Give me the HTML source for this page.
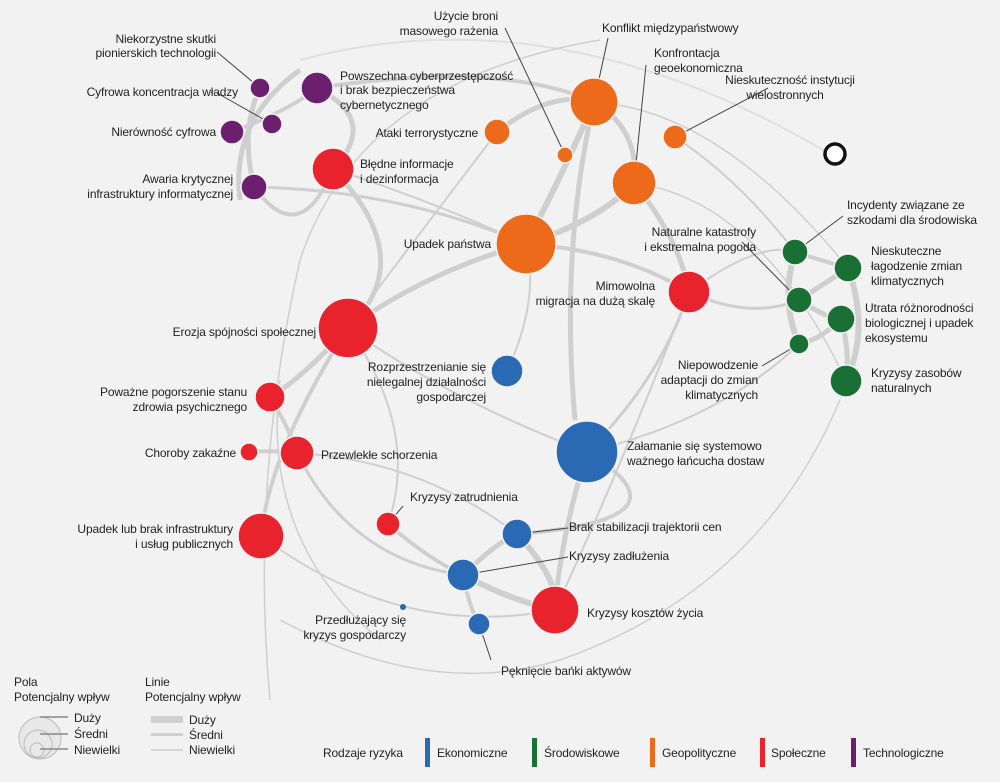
<!DOCTYPE html>
<html><head><meta charset="utf-8"><style>
html,body{margin:0;padding:0;background:#f2f2f2}
svg{display:block}
text{font-family:"Liberation Sans Narrow","Liberation Sans",sans-serif;font-size:12px;letter-spacing:-0.15px;fill:#222}
.e{fill:none;stroke:#cfcfcf}
.l{stroke:#444;stroke-width:1;fill:none}
circle.n{stroke:#f2f2f2;stroke-width:1.5}
</style></head><body>
<svg width="1000" height="782" viewBox="0 0 1000 782">
<rect width="1000" height="782" fill="#f2f2f2"/>
<g class="e">
<path d="M300 60 Q560 -10 840 160" stroke-width="2" stroke="#e0e0e0"/>
<path d="M240 200 Q230 120 300 70" stroke-width="5"/>
<path d="M254 187 Q300 250 333 169" stroke-width="4"/>
<path d="M317 88 Q380 120 333 169" stroke-width="5"/>
<path d="M260 88 Q240 130 254 187" stroke-width="5"/>
<path d="M232 132 Q290 110 317 88" stroke-width="4"/>
<path d="M333 169 Q420 260 348 328" stroke-width="5"/>
<path d="M317 88 Q500 60 594 102" stroke-width="4"/>
<path d="M497 132 Q550 90 594 102" stroke-width="5"/>
<path d="M594 102 Q560 180 526 244" stroke-width="6"/>
<path d="M594 102 Q640 130 634 183" stroke-width="5"/>
<path d="M634 183 Q600 220 526 244" stroke-width="6"/>
<path d="M634 183 Q680 240 689 292" stroke-width="5"/>
<path d="M594 102 Q560 250 575 420" stroke-width="5"/>
<path d="M526 244 Q430 270 348 328" stroke-width="5"/>
<path d="M526 244 Q620 250 689 292" stroke-width="4"/>
<path d="M348 328 Q300 380 270 397" stroke-width="5"/>
<path d="M348 328 Q270 450 261 536" stroke-width="4"/>
<path d="M270 397 Q290 430 297 453" stroke-width="4"/>
<path d="M249 452 Q270 450 297 453" stroke-width="4"/>
<path d="M297 453 Q350 560 463 575" stroke-width="3"/>
<path d="M261 536 Q400 640 555 610" stroke-width="2"/>
<path d="M587 452 Q560 540 555 610" stroke-width="5"/>
<path d="M517 534 Q560 580 555 610" stroke-width="6"/>
<path d="M463 575 Q510 600 555 610" stroke-width="6"/>
<path d="M463 575 Q500 540 517 534" stroke-width="5"/>
<path d="M463 575 Q470 610 479 624" stroke-width="4"/>
<path d="M388 524 Q430 560 463 575" stroke-width="4"/>
<path d="M587 452 Q700 520 517 534" stroke-width="4"/>
<path d="M689 292 Q750 320 799 300" stroke-width="3"/>
<path d="M795 252 Q780 300 799 344" stroke-width="6"/>
<path d="M848 268 Q870 330 846 381" stroke-width="6"/>
<path d="M799 300 Q830 280 848 268" stroke-width="5"/>
<path d="M799 300 Q830 320 841 319" stroke-width="5"/>
<path d="M795 252 Q820 260 848 268" stroke-width="4"/>
<path d="M799 344 Q820 340 841 319" stroke-width="5"/>
<path d="M841 319 Q850 350 846 381" stroke-width="5"/>
<path d="M270 700 Q250 480 300 260 Q360 80 600 40" stroke-width="1.5"/>
<path d="M280 620 Q430 700 560 660 Q760 590 840 400" stroke-width="1.5"/>
<path d="M380 640 Q260 540 280 380" stroke-width="1.5"/>
<path d="M689 292 Q660 380 587 452" stroke-width="3"/>
<path d="M507 371 Q540 300 526 244" stroke-width="2"/>
<path d="M333 169 Q430 200 526 244" stroke-width="2"/>
<path d="M254 187 Q400 190 526 244" stroke-width="3"/>
<path d="M675 137 Q740 180 795 252" stroke-width="2"/>
<path d="M689 292 Q760 240 795 252" stroke-width="2"/>
<path d="M587 452 Q720 420 799 344" stroke-width="2"/>
<path d="M348 328 Q450 400 587 452" stroke-width="2"/>
<path d="M297 453 Q420 460 517 534" stroke-width="2"/>
<path d="M348 328 Q420 430 388 524" stroke-width="2"/>
<path d="M497 132 Q430 220 348 328" stroke-width="2"/>
<path d="M594 102 Q720 110 848 268" stroke-width="1.5"/>
<path d="M634 183 Q760 200 846 381" stroke-width="1.5"/>
<path d="M689 292 Q620 470 555 610" stroke-width="2"/>
</g>
<g class="l">
<line x1="505" y1="28" x2="565" y2="155"/>
<line x1="608" y1="38" x2="594" y2="102"/>
<line x1="646" y1="65" x2="634" y2="183"/>
<line x1="768" y1="88" x2="675" y2="137"/>
<line x1="217" y1="52" x2="260" y2="88"/>
<line x1="217" y1="93" x2="272" y2="124"/>
<line x1="742" y1="242" x2="799" y2="300"/>
<line x1="843" y1="216" x2="795" y2="252"/>
<line x1="762" y1="366" x2="799" y2="344"/>
<line x1="403" y1="506" x2="388" y2="524"/>
<line x1="568" y1="528" x2="517" y2="534"/>
<line x1="568" y1="557" x2="463" y2="575"/>
<line x1="491" y1="660" x2="479" y2="624"/>
</g>
<g>
<circle class="n" cx="260" cy="88" r="10" fill="#6b1f6e"/>
<circle class="n" cx="317" cy="88" r="16" fill="#6b1f6e"/>
<circle class="n" cx="272" cy="124" r="10" fill="#6b1f6e"/>
<circle class="n" cx="232" cy="132" r="12" fill="#6b1f6e"/>
<circle class="n" cx="254" cy="187" r="13" fill="#6b1f6e"/>
<circle class="n" cx="333" cy="169" r="21" fill="#e8232e"/>
<circle class="n" cx="348" cy="328" r="30" fill="#e8232e"/>
<circle class="n" cx="270" cy="397" r="15" fill="#e8232e"/>
<circle class="n" cx="249" cy="452" r="9" fill="#e8232e"/>
<circle class="n" cx="297" cy="453" r="17" fill="#e8232e"/>
<circle class="n" cx="261" cy="536" r="23" fill="#e8232e"/>
<circle class="n" cx="388" cy="524" r="12" fill="#e8232e"/>
<circle class="n" cx="555" cy="610" r="24" fill="#e8232e"/>
<circle class="n" cx="689" cy="292" r="21" fill="#e8232e"/>
<circle class="n" cx="594" cy="102" r="24" fill="#ec6a1a"/>
<circle class="n" cx="497" cy="132" r="13" fill="#ec6a1a"/>
<circle class="n" cx="565" cy="155" r="8" fill="#ec6a1a"/>
<circle class="n" cx="675" cy="137" r="12" fill="#ec6a1a"/>
<circle class="n" cx="634" cy="183" r="22" fill="#ec6a1a"/>
<circle class="n" cx="526" cy="244" r="30" fill="#ec6a1a"/>
<circle class="n" cx="507" cy="371" r="16" fill="#2a6ab5"/>
<circle class="n" cx="587" cy="452" r="31" fill="#2a6ab5"/>
<circle class="n" cx="517" cy="534" r="15" fill="#2a6ab5"/>
<circle class="n" cx="463" cy="575" r="16" fill="#2a6ab5"/>
<circle cx="403" cy="607" r="3" fill="#2a6ab5"/>
<circle class="n" cx="479" cy="624" r="11" fill="#2a6ab5"/>
<circle class="n" cx="795" cy="252" r="13" fill="#1a7034"/>
<circle class="n" cx="848" cy="268" r="14" fill="#1a7034"/>
<circle class="n" cx="799" cy="300" r="13" fill="#1a7034"/>
<circle class="n" cx="841" cy="319" r="14" fill="#1a7034"/>
<circle class="n" cx="799" cy="344" r="10" fill="#1a7034"/>
<circle class="n" cx="846" cy="381" r="16" fill="#1a7034"/>
<circle cx="835" cy="154" r="10" fill="#fff" stroke="#111" stroke-width="3.5"/>
</g>
<g>
<text x="216" y="43" text-anchor="end">Niekorzystne skutki</text>
<text x="216" y="57" text-anchor="end">pionierskich technologii</text>
<text x="238" y="96" text-anchor="end">Cyfrowa koncentracja władzy</text>
<text x="216" y="136" text-anchor="end">Nierówność cyfrowa</text>
<text x="233" y="183" text-anchor="end">Awaria krytycznej</text>
<text x="233" y="198" text-anchor="end">infrastruktury informatycznej</text>
<text x="340" y="80">Powszechna cyberprzestępczość</text>
<text x="340" y="94">i brak bezpieczeństwa</text>
<text x="340" y="109">cybernetycznego</text>
<text x="478" y="137" text-anchor="end">Ataki terrorystyczne</text>
<text x="360" y="168">Błędne informacje</text>
<text x="360" y="183">i dezinformacja</text>
<text x="498" y="20" text-anchor="end">Użycie broni</text>
<text x="498" y="35" text-anchor="end">masowego rażenia</text>
<text x="602" y="32">Konflikt międzypaństwowy</text>
<text x="654" y="57">Konfrontacja</text>
<text x="654" y="72">geoekonomiczna</text>
<text x="790" y="84" text-anchor="middle">Nieskuteczność instytucji</text>
<text x="785" y="99" text-anchor="middle">wielostronnych</text>
<text x="491" y="248" text-anchor="end">Upadek państwa</text>
<text x="756" y="236" text-anchor="end">Naturalne katastrofy</text>
<text x="756" y="251" text-anchor="end">i ekstremalna pogoda</text>
<text x="655" y="290" text-anchor="end">Mimowolna</text>
<text x="655" y="305" text-anchor="end">migracja na dużą skalę</text>
<text x="847" y="209">Incydenty związane ze</text>
<text x="847" y="224">szkodami dla środowiska</text>
<text x="871" y="255">Nieskuteczne</text>
<text x="871" y="270">łagodzenie zmian</text>
<text x="871" y="285">klimatycznych</text>
<text x="865" y="312">Utrata różnorodności</text>
<text x="865" y="327">biologicznej i upadek</text>
<text x="865" y="342">ekosystemu</text>
<text x="758" y="369" text-anchor="end">Niepowodzenie</text>
<text x="758" y="384" text-anchor="end">adaptacji do zmian</text>
<text x="758" y="399" text-anchor="end">klimatycznych</text>
<text x="871" y="377">Kryzysy zasobów</text>
<text x="871" y="392">naturalnych</text>
<text x="316" y="336" text-anchor="end">Erozja spójności społecznej</text>
<text x="486" y="371" text-anchor="end">Rozprzestrzenianie się</text>
<text x="486" y="386" text-anchor="end">nielegalnej działalności</text>
<text x="486" y="401" text-anchor="end">gospodarczej</text>
<text x="247" y="396" text-anchor="end">Poważne pogorszenie stanu</text>
<text x="247" y="411" text-anchor="end">zdrowia psychicznego</text>
<text x="236" y="457" text-anchor="end">Choroby zakaźne</text>
<text x="321" y="459">Przewlekłe schorzenia</text>
<text x="627" y="450">Załamanie się systemowo</text>
<text x="627" y="465">ważnego łańcucha dostaw</text>
<text x="410" y="501">Kryzysy zatrudnienia</text>
<text x="233" y="533" text-anchor="end">Upadek lub brak infrastruktury</text>
<text x="233" y="548" text-anchor="end">i usług publicznych</text>
<text x="569" y="531">Brak stabilizacji trajektorii cen</text>
<text x="569" y="560">Kryzysy zadłużenia</text>
<text x="587" y="617">Kryzysy kosztów życia</text>
<text x="406" y="624" text-anchor="end">Przedłużający się</text>
<text x="406" y="639" text-anchor="end">kryzys gospodarczy</text>
<text x="501" y="675">Pęknięcie bańki aktywów</text>
</g>
<g>
<text x="14" y="686">Pola</text>
<text x="14" y="701">Potencjalny wpływ</text>
<circle cx="40" cy="738" r="21" fill="#e8e8e8" stroke="#bbb"/>
<circle cx="38" cy="744" r="14" fill="none" stroke="#bbb"/>
<circle cx="37" cy="750" r="7" fill="none" stroke="#bbb"/>
<line x1="40" y1="717" x2="68" y2="717" stroke="#888" stroke-width="1.5"/>
<line x1="40" y1="734" x2="68" y2="734" stroke="#888" stroke-width="1.5"/>
<line x1="40" y1="749" x2="68" y2="749" stroke="#888" stroke-width="1.5"/>
<text x="74" y="722">Duży</text>
<text x="74" y="738">Średni</text>
<text x="74" y="754">Niewielki</text>
<text x="145" y="686">Linie</text>
<text x="145" y="701">Potencjalny wpływ</text>
<rect x="151" y="716" width="32" height="7" fill="#cfcfcf"/>
<rect x="151" y="733" width="32" height="3" fill="#cfcfcf"/>
<rect x="151" y="749" width="32" height="2" fill="#d5d5d5"/>
<text x="189" y="724">Duży</text>
<text x="189" y="739">Średni</text>
<text x="189" y="754">Niewielki</text>
<text x="323" y="757">Rodzaje ryzyka</text>
<rect x="425" y="738" width="5" height="29" fill="#2a6ab5"/>
<text x="437" y="757">Ekonomiczne</text>
<rect x="532" y="738" width="5" height="29" fill="#1a7034"/>
<text x="544" y="757">Środowiskowe</text>
<rect x="650" y="738" width="5" height="29" fill="#ec6a1a"/>
<text x="662" y="757">Geopolityczne</text>
<rect x="760" y="738" width="5" height="29" fill="#e8232e"/>
<text x="771" y="757">Społeczne</text>
<rect x="851" y="738" width="5" height="29" fill="#6b1f6e"/>
<text x="863" y="757">Technologiczne</text>
</g>
</svg>
</body></html>
